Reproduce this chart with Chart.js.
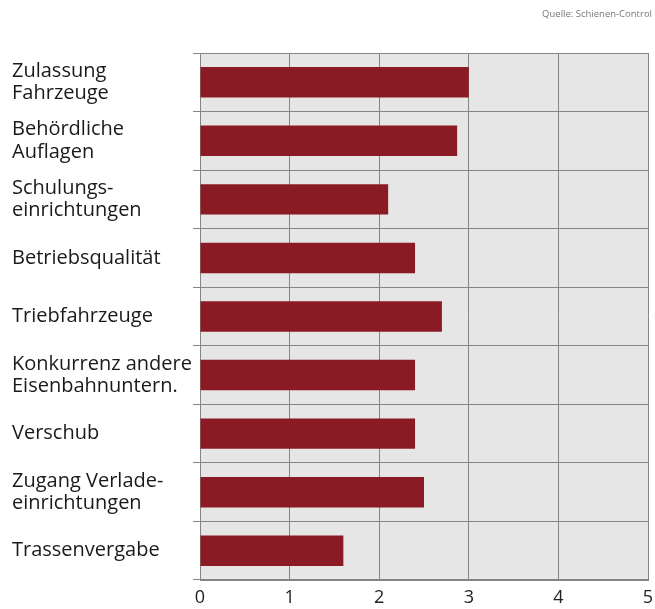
<!DOCTYPE html>
<html>
<head>
<meta charset="utf-8">
<script src="https://cdn.jsdelivr.net/npm/chart.js@4"></script>
<style>
  body { margin: 0; background: #fff; }
  #chart { display: block; }
</style>
</head>
<body>
<canvas id="chart" width="655" height="609"></canvas>
<script>
const categories = [
    ["Zulassung", "Fahrzeuge"],
    ["Behördliche", "Auflagen"],
    ["Schulungs-", "einrichtungen"],
    "Betriebsqualität",
    "Triebfahrzeuge",
    ["Konkurrenz andere", "Eisenbahnuntern."],
    "Verschub",
    ["Zugang Verlade-", "einrichtungen"],
    "Trassenvergabe"
];
const values = [3.0, 2.87, 2.1, 2.4, 2.7, 2.4, 2.4, 2.5, 1.6];
const xTicks = [0, 1, 2, 3, 4, 5];
const source = "Quelle: Schienen-Control";

const gridColor = "#858585";

// grey plot background + source note
const plotBg = {
    id: "plotBg",
    beforeDraw(chart){
        const {ctx, chartArea:a} = chart;
        ctx.save();
        ctx.fillStyle = "#e6e6e6";
        ctx.fillRect(a.left, a.top, a.right-a.left, a.bottom-a.top);
        ctx.restore();
    },
    afterDraw(chart){
        const ctx = chart.ctx;
        ctx.save();
        ctx.font = "9.5px 'Open Sans'";
        ctx.fillStyle = "#777";
        ctx.textAlign = "right";
        ctx.textBaseline = "middle";
        ctx.fillText(source, 652, 14);
        ctx.restore();
    }
};

new Chart(document.getElementById("chart"), {
    type: "bar",
    data: {
        labels: categories,
        datasets: [{
            data: values,
            backgroundColor: "#8a1b24",
            barPercentage: 0.52,
            categoryPercentage: 1
        }]
    },
    options: {
        indexAxis: "y",
        responsive: false,
        animation: false,
        layout: {padding: {left: 12, right: 7, top: 53, bottom: 0}},
        plugins: {legend: {display: false}, tooltip: {enabled: false}},
        scales: {
            x: {
                min: 0, max: 5,
                afterBuildTicks(scale){ scale.ticks = xTicks.map(v => ({value: v})); },
                afterFit(scale){ scale.paddingLeft = 0; scale.paddingRight = 0; scale.height = 29; },
                grid: {color: gridColor, drawTicks: false},
                border: {color: gridColor},
                ticks: {font: {family: "Open Sans", size: 18, lineHeight: 1.2}, color: "#222", padding: 7}
            },
            y: {
                grid: {color: gridColor, tickLength: 7, offset: true},
                border: {color: gridColor},
                afterFit(scale){ scale.width = 188; scale.paddingTop = 0; scale.paddingBottom = 0; },
                ticks: {
                    crossAlign: "far",
                    font: {family: "Open Sans", size: 20, lineHeight: 1.12},
                    color: "#1a1a1a",
                    padding: 0
                }
            }
        }
    },
    plugins: [plotBg]
});
</script>
</body>
</html>
